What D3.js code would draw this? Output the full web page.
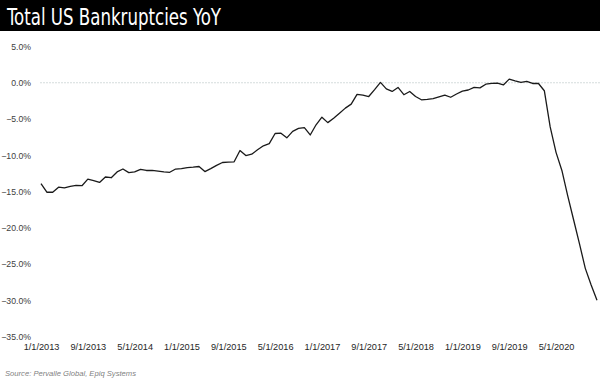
<!DOCTYPE html>
<html>
<head>
<meta charset="utf-8">
<script src="https://cdn.jsdelivr.net/npm/d3@7"></script>
<style>
  html, body { margin: 0; padding: 0; background: #fff; }
  svg { display: block; }
</style>
</head>
<body>
<svg id="chart" width="600" height="381"></svg>
<script>
// ---- data ----
const titleText = "Total US Bankruptcies YoY";
const sourceText = "Source: Pervalle Global, Epiq Systems";
const startMonth = new Date(2013, 0, 1);
const endMonth = new Date(2020, 11, 1);
const yoyValues = [
  -13.9, -15.1, -15.1, -14.4, -14.5, -14.3, -14.15, -14.2, -13.3, -13.5, -13.75, -13.0,
  -13.1, -12.3, -11.9, -12.4, -12.3, -11.95, -12.1, -12.1, -12.2, -12.3, -12.35, -11.9,
  -11.85, -11.7, -11.65, -11.55, -12.25, -11.85, -11.4, -11.0, -10.95, -10.9, -9.35, -10.05,
  -9.85, -9.25, -8.7, -8.4, -7.0, -6.95, -7.6, -6.7, -6.3, -6.2, -7.2, -5.8,
  -4.75, -5.5, -4.9, -4.2, -3.5, -2.95, -1.6, -1.7, -1.9, -0.95, 0.05, -0.85,
  -1.2, -0.65, -1.65, -1.2, -1.9, -2.35, -2.3, -2.2, -1.95, -1.7, -2.0, -1.55,
  -1.15, -1.0, -0.65, -0.7, -0.2, -0.1, -0.05, -0.3, 0.5, 0.25, 0.05, 0.2,
  -0.1, -0.1, -1.1, -6.1, -9.6, -12.1, -15.6, -18.9, -22.2, -25.6, -27.9, -30.0
];
const xTickLabels = ["1/1/2013","9/1/2013","5/1/2014","1/1/2015","9/1/2015","5/1/2016",
  "1/1/2017","9/1/2017","5/1/2018","1/1/2019","9/1/2019","5/1/2020"];
const yTickValues = [5, 0, -5, -10, -15, -20, -25, -30, -35];

// ---- build ----
const fmtDate = d => (d.getMonth() + 1) + "/" + d.getDate() + "/" + d.getFullYear();
const months = d3.timeMonth.range(startMonth, d3.timeMonth.offset(endMonth, 1));
const categories = months.map(fmtDate);
const data = categories.map((c, i) => ({ cat: c, v: yoyValues[i] }));

const svg = d3.select("#chart");

// title band
svg.append("rect").attr("x", 0).attr("y", 0).attr("width", 600).attr("height", 31)
  .attr("fill", "#000");
svg.append("text").attr("x", 7).attr("y", 25)
  .attr("fill", "#fff")
  .attr("font-family", "'Liberation Sans Narrow', 'DejaVu Sans Condensed', 'Arial Narrow', sans-serif")
  .attr("font-size", 23)
  .attr("textLength", 214).attr("lengthAdjust", "spacingAndGlyphs")
  .text(titleText);

const x = d3.scalePoint().domain(categories).range([41, 597]);
const y = d3.scaleLinear().domain([-35, 5]).range([336.5, 46.5]);

// zero line
svg.append("line")
  .attr("x1", 40).attr("x2", 600)
  .attr("y1", y(0)).attr("y2", y(0))
  .attr("stroke", "#d5dcdc").attr("stroke-width", 1)
  .attr("stroke-dasharray", "2,1");

// y axis
const yAxis = d3.axisLeft(y).tickValues(yTickValues).tickSize(0).tickPadding(0)
  .tickFormat(d => d3.format(".1f")(d) + "%");
const gy = svg.append("g").attr("transform", "translate(31,0)").call(yAxis);
gy.select(".domain").remove();
gy.selectAll("text")
  .attr("font-family", "'Liberation Sans', Arial, sans-serif")
  .attr("font-size", 8.7).attr("fill", "#404040");

// x axis
const xAxis = d3.axisBottom(x).tickValues(xTickLabels).tickSize(0).tickPadding(0);
const gx = svg.append("g").attr("transform", "translate(0,343)").call(xAxis);
gx.select(".domain").remove();
gx.selectAll("text")
  .attr("font-family", "'Liberation Sans', Arial, sans-serif")
  .attr("font-size", 9.2).attr("fill", "#262626").attr("dy", "0.71em");

// line
const line = d3.line().x(d => x(d.cat)).y(d => y(d.v));
svg.append("path").datum(data)
  .attr("d", line)
  .attr("fill", "none")
  .attr("stroke", "#1a1a1a")
  .attr("stroke-width", 1.3)
  .attr("stroke-linejoin", "round");

// source
svg.append("text").attr("x", 5).attr("y", 376)
  .attr("font-family", "'Liberation Sans', Arial, sans-serif")
  .attr("font-style", "italic")
  .attr("font-size", 7.5).attr("fill", "#7f7f7f")
  .attr("textLength", 131).attr("lengthAdjust", "spacingAndGlyphs")
  .text(sourceText);
</script>
</body>
</html>
